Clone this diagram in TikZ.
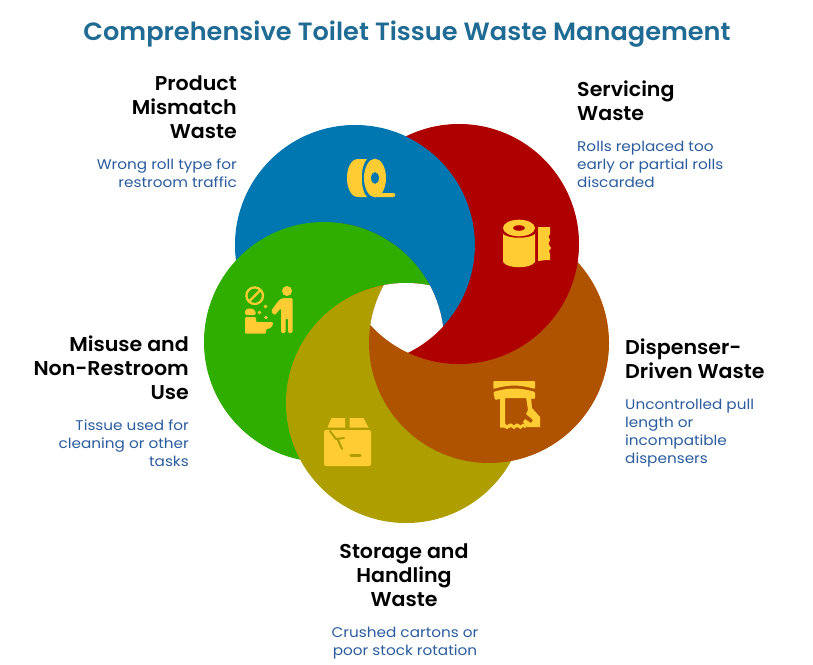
\documentclass[tikz,border=0pt]{standalone}
\usepackage{fontspec}
\setmainfont[FakeStretch=1.09]{Poppins}
\newfontfamily\headfont[FakeStretch=1.03]{Poppins SemiBold}
\newfontfamily\titlefont[FakeStretch=1.025]{Poppins SemiBold}
\definecolor{cblue}{RGB}{0,119,176}
\definecolor{cred}{RGB}{175,0,0}
\definecolor{corange}{RGB}{176,83,0}
\definecolor{colive}{RGB}{174,158,0}
\definecolor{cgreen}{RGB}{47,174,0}
\definecolor{cyel}{RGB}{255,204,51}
\definecolor{ctitle}{RGB}{31,107,148}
\definecolor{cbody}{RGB}{42,92,158}
\tikzset{
  headtxt/.style={inner sep=0pt,text=black,font=\headfont\fontsize{20}{24}\selectfont},
  bodytxt/.style={inner sep=0pt,text=cbody,font=\fontsize{14}{18}\selectfont},
  icon/.style={fill=cyel,draw=none},
  iconline/.style={draw=cyel,line cap=round,line join=round}
}
\newcommand{\outside}[1]{\clip (-10,-10) rectangle (823,674) #1 circle[radius=120];}
\begin{document}
\begin{tikzpicture}[x=1pt,y=-1pt]
\useasboundingbox (0,0) rectangle (813,664);
\coordinate (B) at (355,245);
\coordinate (R) at (459,244);
\coordinate (O) at (489,343);
\coordinate (L) at (406,403);
\coordinate (G) at (324,342);
% underlay, hides seams
\fill[cblue] (B) circle[radius=119.5];
\fill[cgreen] (G) circle[radius=119.5];
\fill[colive] (L) circle[radius=119.5];
\fill[corange] (O) circle[radius=119.5];
\fill[cred] (R) circle[radius=119.5];
% each shape is its circle less the next one
\begin{scope}[even odd rule]\outside{(G)}\fill[cblue] (B) circle[radius=120];\end{scope}
\begin{scope}[even odd rule]\outside{(L)}\fill[cgreen] (G) circle[radius=120];\end{scope}
\begin{scope}[even odd rule]\outside{(O)}\fill[colive] (L) circle[radius=120];\end{scope}
\begin{scope}[even odd rule]\outside{(R)}\fill[corange] (O) circle[radius=120];\end{scope}
\begin{scope}[even odd rule]\outside{(B)}\fill[cred] (R) circle[radius=120];\end{scope}
% central hole
\begin{scope}
\clip (B) circle[radius=120];\clip (R) circle[radius=120];\clip (O) circle[radius=120];\clip (L) circle[radius=120];\clip (G) circle[radius=120];
\fill[white] (340,260) rectangle (470,370);
\end{scope}

% tape icon
\fill[icon] (367,159) -- (358,159) .. controls (351,159) and (347,168) .. (347,178) .. controls (347,188) and (351,197) .. (358,197) -- (367,197) .. controls (360,190) and (360,166) .. (367,159) -- cycle;
\fill[icon,even odd rule] (375,178) ellipse[x radius=11,y radius=19.3] (375,178) ellipse[x radius=4,y radius=6];
\fill[icon] (375,193) -- (393,193) .. controls (396,193) and (396,197) .. (393,197) -- (375,197) -- cycle;

% roll icon
\fill[icon,even odd rule] (519,228) ellipse[x radius=16,y radius=8.3] (519,228) ellipse[x radius=6.3,y radius=2.8];
\fill[icon] (503,234) .. controls (508,239) and (530,239) .. (535,234) -- (535,262) .. controls (531,269) and (507,269) .. (503,262) -- cycle;
\fill[icon] (538,227) -- (550,227) -- (550,234) -- (548.5,236.5) -- (550,240) -- (548.5,244) -- (551,248) -- (549,251) -- (550,254) -- (550,260) -- (546,260) -- (538,261) -- cycle;

% person and toilet icon
\draw[iconline,line width=2.2] (254.7,295.7) circle[radius=8.3];
\draw[iconline,line width=2.2] (249.5,301) -- (260,290.5);
\fill[icon] (287,291) circle[radius=5];
\fill[icon,rounded corners=1.5pt] (271,311) -- (279,300) -- (283,298) -- (292.7,298) -- (292.7,320) -- (292.7,333) -- (288,333) -- (288,318) -- (285.5,318) -- (285.5,333) -- (281,333) -- (281,308) -- (274.5,315.5) -- cycle;
\fill[icon,rounded corners=1.5pt] (245,315) -- (245,310) -- (250,308) -- (255,310) -- (256,315) -- cycle;
\fill[icon,rounded corners=1pt] (245,317) -- (256,317) -- (256,322) -- (273,322) .. controls (273,327) and (269,329) .. (266,329) -- (266,333.5) -- (245,333.5) -- cycle;
\fill[icon] (259.5,312.5) circle[radius=1.9] (265.5,306.5) circle[radius=1.9] (266,317.5) circle[radius=1.9];

% dispenser icon
\fill[icon,rounded corners=1pt] (493.3,381) -- (535,381) -- (535,389) .. controls (520,384.5) and (508,384.5) .. (493.3,389) -- cycle;
\fill[icon,rounded corners=1pt] (493.3,392) .. controls (508,387.5) and (520,387.5) .. (535,392) -- (535,399) -- (526,398) -- (504,398) -- (495,400) -- cycle;
\fill[icon] (500,397) -- (505,397) -- (505,423.5) -- (507,425.5) -- (509,423.5) -- (511.5,423.5) -- (514,425.5) -- (516,423.5) -- (518,423.5) -- (520.5,425.5) -- (523,423.5) -- (526,425) -- (526,428) -- (523,427) -- (520.5,429) -- (517,427) -- (514,429) -- (511,427) -- (507,429) -- (504,427.5) -- (500,427.5) -- cycle;
\fill[icon] (526,397) -- (531,397) -- (532,408) -- (540,417) -- (540,427) -- (527,427) -- (523,422) -- (525,419) -- (531,423) -- (533,420) -- (526,414) -- (528,410) -- cycle;

% box icon
\fill[icon] (331.5,418) -- (345,418) -- (345,427.5) -- (327.5,427.5) -- cycle;
\fill[icon] (349.5,418) -- (363.5,418) -- (368.5,427.5) -- (349.5,427.5) -- cycle;
\fill[icon,rounded corners=2pt] (324,430) -- (371,430) -- (371,466) -- (324,466) -- cycle;
\draw[colive,line width=2,line cap=round] (330,431) -- (336,439) -- (344,438) (338,440) -- (342,449);
\draw[colive,line width=3.4,line cap=round] (351,455.5) -- (360,455.5);

% labels
\node[inner sep=0pt,text=ctitle,font=\titlefont\fontsize{25}{30}\selectfont] (title) at (407,34) {Comprehensive Toilet Tissue Waste Management};

\node[headtxt,align=right,anchor=north east] (h1) at (237,75.5) {Product\\Mismatch\\Waste};
\node[bodytxt,align=right,anchor=north east] (b1) at (237,159) {Wrong roll type for\\restroom traffic};

\node[headtxt,align=left,anchor=north west] (h2) at (577,80.5) {Servicing\\Waste};
\node[bodytxt,align=left,anchor=north west] (b2) at (577,141) {Rolls replaced too\\early or partial rolls\\discarded};

\node[headtxt,align=left,anchor=north west] (h3) at (625,339) {Dispenser-\\Driven Waste};
\node[bodytxt,align=left,anchor=north west] (b3) at (625,399) {Uncontrolled pull\\length or\\incompatible\\dispensers};

\node[headtxt,align=center,anchor=north] (h4) at (404,543.5) {Storage and\\Handling\\Waste};
\node[bodytxt,align=center,anchor=north] (b4) at (405,627) {Crushed cartons or\\poor stock rotation};

\node[headtxt,align=right,anchor=north east] (h5) at (189,336) {Misuse and\\Non-Restroom\\Use};
\node[bodytxt,align=right,anchor=north east] (b5) at (189,420) {Tissue used for\\cleaning or other\\tasks};
\end{tikzpicture}
\end{document}
